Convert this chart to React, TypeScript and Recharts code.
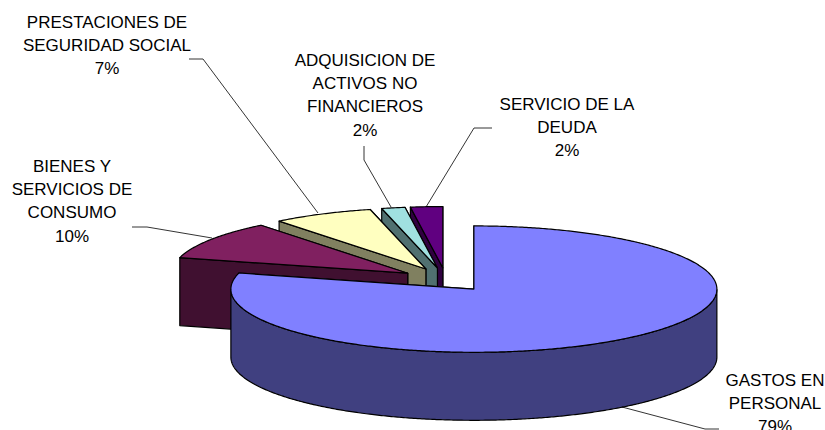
import React from "react";
import { PieChart, Pie, Cell } from "recharts";

const categories = [
  "SERVICIO DE LA\nDEUDA",
  "ADQUISICION DE\nACTIVOS NO\nFINANCIEROS",
  "PRESTACIONES DE\nSEGURIDAD SOCIAL",
  "BIENES Y\nSERVICIOS DE\nCONSUMO",
  "GASTOS EN\nPERSONAL",
];
const values = [2.2, 1.6, 6.9, 10.2, 79.1];
const topColors = ["#600080", "#A0E0E0", "#FFFFC0", "#802060", "#8080FF"];
const sideColors = ["#300040", "#507070", "#808060", "#401030", "#404080"];

// layout only: label centre, first-line y, leader polyline
const labelLayout = [
  { x: 567, y: 110, line: "492,128 474,128 426,207" },
  { x: 365, y: 66, line: "364,146 364,160 391,207" },
  { x: 107, y: 28, line: "189,59 203,59 318,213" },
  { x: 72, y: 172, line: "132,227 147,227 212,238" },
  { x: 775, y: 386, line: "622,407 705,429 719,429" },
];

const SQUASH = 0.26;
const DEPTH = 68;
const EXPLODE = 0.188;
const BACK_SCALE = 0.97;
const RAD = Math.PI / 180;
const LINE_H = 23.2;

function Slice3D(props: any) {
  const { cx, cy, outerRadius, startAngle, endAngle, midAngle, index } = props;
  const top = topColors[index];
  const side = sideColors[index];
  const ox = cx + EXPLODE * outerRadius * Math.cos(midAngle * RAD);
  const oy = cy - EXPLODE * outerRadius * SQUASH * Math.sin(midAngle * RAD);
  const r = Math.sin(midAngle * RAD) > 0 ? outerRadius * BACK_SCALE : outerRadius;
  const pt = (a: number, d = 0): [number, number] => [
    ox + r * Math.cos(a * RAD),
    oy - r * SQUASH * Math.sin(a * RAD) + d,
  ];
  const s = pt(startAngle);
  const e = pt(endAngle);
  const n = Math.max(4, Math.ceil(Math.abs(endAngle - startAngle) * 2));
  const angles = Array.from({ length: n + 1 }, (_, i) => startAngle + ((endAngle - startAngle) * i) / n);
  const arc = angles.map((a) => pt(a));
  const poly = (p: [number, number][]) => p.map((q) => q.join(",")).join(" ");
  const c: [number, number] = [ox, oy];
  const cd: [number, number] = [ox, oy + DEPTH];

  // visible rim: the part of the arc on the viewer's side (sin < 0)
  const rimAngles = angles.filter((a) => Math.sin(a * RAD) <= 0);
  const rim =
    rimAngles.length > 1 ? poly([...rimAngles.map((a) => pt(a)), ...rimAngles.slice().reverse().map((a) => pt(a, DEPTH))]) : null;
  const common = { stroke: "#000", strokeWidth: 1.2, strokeLinejoin: "round" as const };
  return (
    <g>
      <polygon points={poly([c, s, pt(startAngle, DEPTH), cd])} fill={side} {...common} />
      <polygon points={poly([c, e, pt(endAngle, DEPTH), cd])} fill={side} {...common} />
      {rim && <polygon points={rim} fill={side} {...common} />}
      <polygon points={poly([c, ...arc])} fill={top} {...common} />
    </g>
  );
}

function SliceLabel(props: any) {
  const { index, name, value } = props;
  const l = labelLayout[index];
  const lines = [...String(name).split("\n"), `${Math.round(value)}%`];
  return (
    <g>
      <polyline points={l.line} fill="none" stroke="#000" strokeWidth={0.8} />
      <text x={l.x} y={l.y} textAnchor="middle" fontFamily="'Liberation Sans', Arial, sans-serif" fontSize={17} fill="#000">
        {lines.map((t, i) => (
          <tspan key={i} x={l.x} y={l.y + i * LINE_H}>
            {t}
          </tspan>
        ))}
      </text>
    </g>
  );
}

const rows = categories.map((name, i) => ({ name, value: values[i] }));

export default function App() {
  return (
    <div style={{ position: "absolute", left: 0, top: 0, width: 825, height: 430, background: "#fff" }}>
      <PieChart width={825} height={430} margin={{ top: 0, right: 0, bottom: 0, left: 0 }}>
        <Pie
          data={rows}
          dataKey="value"
          nameKey="name"
          cx={446}
          cy={279.7}
          innerRadius={0}
          outerRadius={243}
          startAngle={90}
          endAngle={450}
          paddingAngle={0}
          isAnimationActive={false}
          shape={Slice3D}
          activeShape={Slice3D}
          inactiveShape={Slice3D}
          label={SliceLabel}
          labelLine={false}
        >
          {rows.map((_, i) => (
            <Cell key={i} fill={topColors[i]} />
          ))}
        </Pie>
      </PieChart>
    </div>
  );
}
